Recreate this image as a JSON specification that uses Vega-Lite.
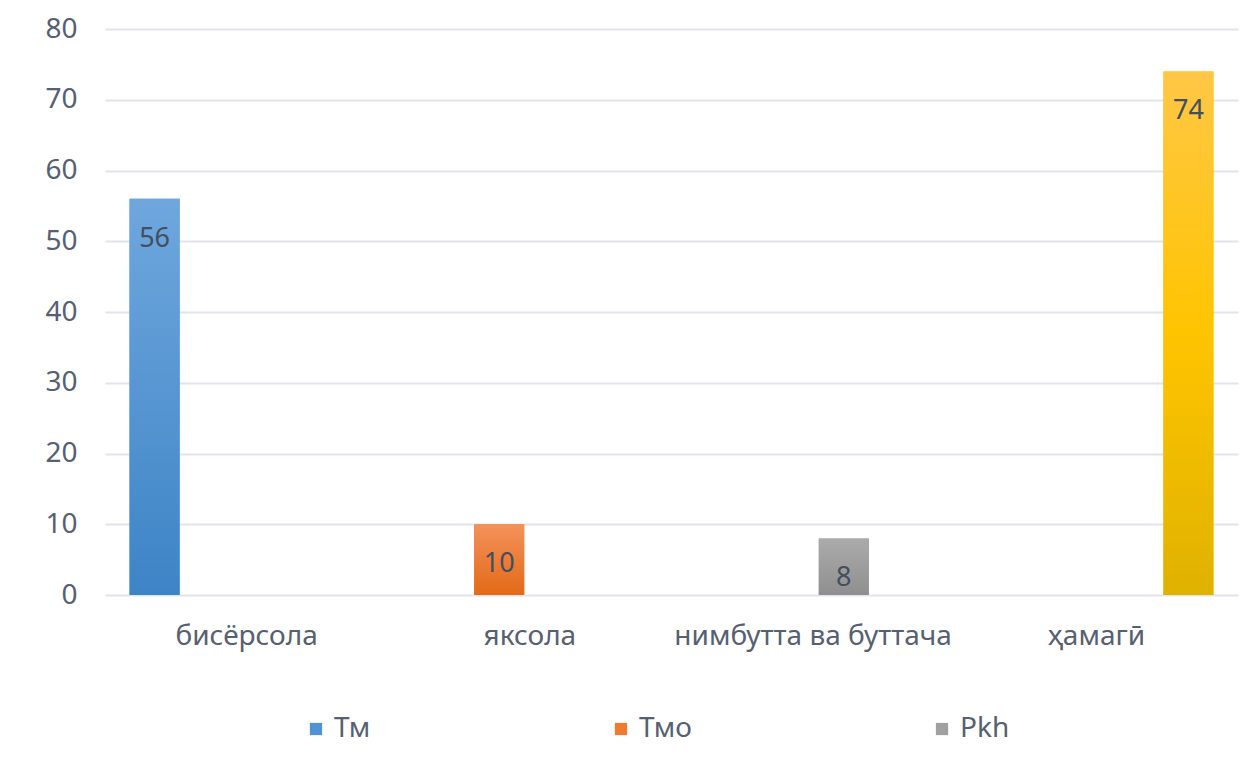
{
  "$schema": "https://vega.github.io/schema/vega-lite/v6.json",
  "autosize": {"type": "none"},
  "width": 1133,
  "height": 566,
  "padding": {"left": 105, "top": 29, "right": 16, "bottom": 178},
  "background": "#ffffff",
  "config": {
    "view": {"stroke": null},
    "font": "Noto Sans"
  },
  "data": {
    "values": [
      {"category": "бисёрсола", "series": "Тм", "value": 56},
      {"category": "яксола", "series": "Тмо", "value": 10},
      {"category": "нимбутта ва буттача", "series": "Pkh", "value": 8},
      {"category": "ҳамагӣ", "series": "Ҳамагӣ", "value": 74}
    ]
  },
  "encoding": {
    "x": {
      "field": "category",
      "type": "nominal",
      "sort": ["бисёрсола", "яксола", "нимбутта ва буттача", "ҳамагӣ"],
      "scale": {"paddingInner": 0, "paddingOuter": 0},
      "axis": {
        "title": null,
        "domain": false,
        "ticks": false,
        "tickSize": 0,
        "labelAngle": 0,
        "labelPadding": 27,
        "labelFontSize": 28,
        "labelLimit": 0,
        "labelColor": "#566070",
        "labelFont": "Noto Sans",
        "grid": false
      }
    },
    "xOffset": {
      "field": "series",
      "type": "nominal",
      "scale": {"domain": ["Тм", "Тмо", "Pkh", "Ҳамагӣ"], "paddingInner": 0.184, "paddingOuter": 0.4}
    },
    "y": {
      "field": "value",
      "type": "quantitative",
      "scale": {"domain": [0, 80], "nice": false},
      "axis": {
        "title": null,
        "values": [0, 10, 20, 30, 40, 50, 60, 70, 80],
        "domain": false,
        "ticks": false,
        "tickSize": 0,
        "labelPadding": 28,
        "labelFontSize": 28,
        "labelColor": "#566070",
        "labelFont": "Noto Sans",
        "grid": true,
        "gridColor": "#e1e4ea",
        "gridWidth": 2
      }
    }
  },
  "layer": [
    {
      "mark": {"type": "bar"},
      "encoding": {
        "color": {
          "field": "series",
          "type": "nominal",
          "scale": {"domain": ["Тм", "Тмо", "Pkh", "Ҳамагӣ"], "range": ["#4f93d4", "#ee7b2f", "#a0a0a0", "#ffc000"]},
          "legend": {
            "title": null,
            "values": ["Тм", "Тмо", "Pkh"],
            "orient": "none",
            "legendX": 197,
            "legendY": 686,
            "direction": "horizontal",
            "symbolType": "square",
            "symbolSize": 150,
            "symbolStrokeWidth": 0,
            "labelFontSize": 28,
            "labelFont": "Noto Sans",
            "labelColor": "#566070",
            "labelOffset": 4,
            "columnPadding": 236
          }
        }
      }
    },
    {
      "transform": [{"filter": "datum.series === 'Тм'"}],
      "mark": {"type": "bar", "color": {"gradient": "linear", "x1": 0, "y1": 0, "x2": 0, "y2": 1, "stops": [{"offset": 0, "color": "#6fa7dd"}, {"offset": 1, "color": "#3d84c6"}]}}
    },
    {
      "transform": [{"filter": "datum.series === 'Тмо'"}],
      "mark": {"type": "bar", "color": {"gradient": "linear", "x1": 0, "y1": 0, "x2": 0, "y2": 1, "stops": [{"offset": 0, "color": "#f4915a"}, {"offset": 1, "color": "#e36a17"}]}}
    },
    {
      "transform": [{"filter": "datum.series === 'Pkh'"}],
      "mark": {"type": "bar", "color": {"gradient": "linear", "x1": 0, "y1": 0, "x2": 0, "y2": 1, "stops": [{"offset": 0, "color": "#ababab"}, {"offset": 1, "color": "#8f8f8f"}]}}
    },
    {
      "transform": [{"filter": "datum.series === 'Ҳамагӣ'"}],
      "mark": {"type": "bar", "color": {"gradient": "linear", "x1": 0, "y1": 0, "x2": 0, "y2": 1, "stops": [{"offset": 0, "color": "#ffc746"}, {"offset": 0.5, "color": "#ffc400"}, {"offset": 1, "color": "#dfb200"}]}}
    },
    {
      "mark": {"type": "text", "baseline": "top", "align": "center", "dy": 27, "fontSize": 27, "font": "Noto Sans", "color": "#434e5e"},
      "encoding": {"text": {"field": "value", "type": "quantitative"}}
    }
  ]
}
